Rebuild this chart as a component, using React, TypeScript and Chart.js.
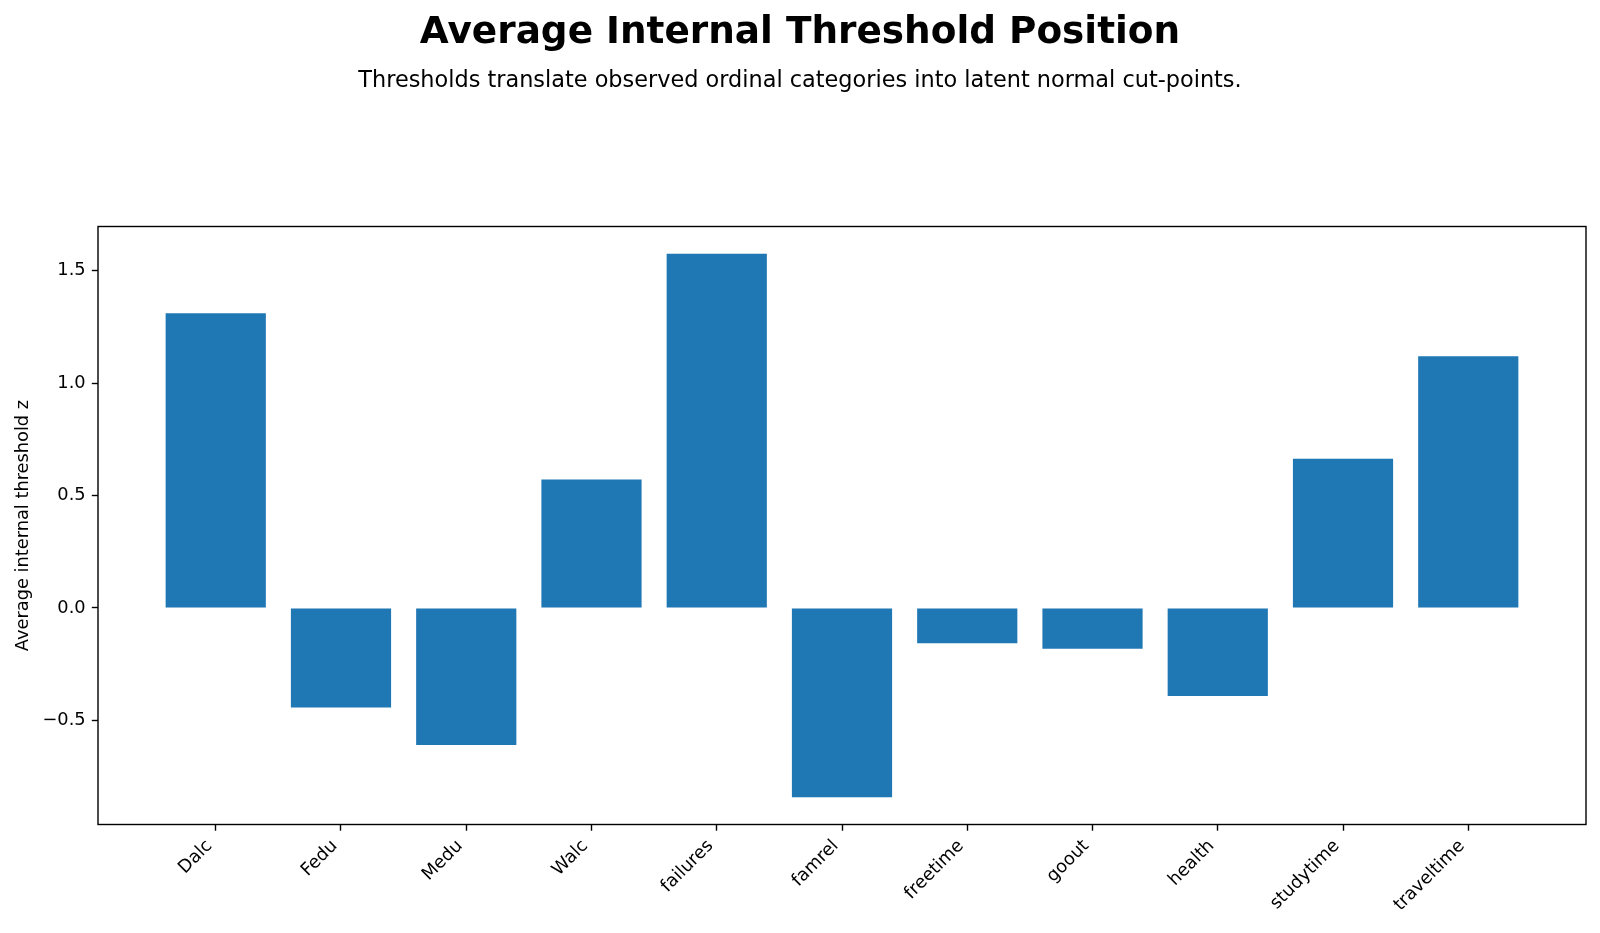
import { useEffect, useRef } from "react";
import { Chart, registerables } from "chart.js";

Chart.register(...registerables);

// Ordinal variables and the mean of their internal (non-extreme) thresholds on the latent z scale
const categories = [
  "Dalc",
  "Fedu",
  "Medu",
  "Walc",
  "failures",
  "famrel",
  "freetime",
  "goout",
  "health",
  "studytime",
  "traveltime",
];
const thresholdMeans = [1.31, -0.443, -0.609, 0.571, 1.575, -0.842, -0.157, -0.182, -0.391, 0.663, 1.119];
const yTickValues = [-0.5, 0.0, 0.5, 1.0, 1.5];

const titleText = "Average Internal Threshold Position";
const subtitleText = "Thresholds translate observed ordinal categories into latent normal cut-points.";
const yAxisLabel = "Average internal threshold z";

const FONT = "'DejaVu Sans', 'Liberation Sans', sans-serif";
const BAR_COLOR = "#1f77b4";
const TICK_FONT_PX = 17.8;
const TICK_LEN = 6.2;
const TICK_PAD = 6.2;
const SPINE_W = 1.4;
const BAR_WIDTH = 0.8;
const MARGIN = 0.05;

const W = 1600;
const H = 933;

// Axis limits with 5% breathing room around the bars
const xLo = -BAR_WIDTH / 2;
const xHi = categories.length - 1 + BAR_WIDTH / 2;
const xMin = xLo - MARGIN * (xHi - xLo);
const xMax = xHi + MARGIN * (xHi - xLo);
const yLo = Math.min(0, ...thresholdMeans);
const yHi = Math.max(0, ...thresholdMeans);
const yMin = yLo - MARGIN * (yHi - yLo);
const yMax = yHi + MARGIN * (yHi - yLo);

const fmtTick = (v: number) => (v < 0 ? "\u2212" + Math.abs(v).toFixed(1) : v.toFixed(1));

const decorations = {
  id: "decorations",
  afterDraw(chart: any) {
    const { ctx, chartArea } = chart;
    const xScale = chart.scales.x;
    ctx.save();

    // Frame around the plotting area
    ctx.strokeStyle = "#000";
    ctx.lineWidth = SPINE_W;
    ctx.strokeRect(chartArea.left, chartArea.top, chartArea.right - chartArea.left, chartArea.bottom - chartArea.top);

    // Heading and subheading
    ctx.fillStyle = "#000";
    ctx.textAlign = "center";
    ctx.textBaseline = "alphabetic";
    ctx.font = `bold 37.4px ${FONT}`;
    ctx.fillText(titleText, W / 2, 43.3);
    ctx.font = `22.4px ${FONT}`;
    ctx.fillText(subtitleText, W / 2, 87.3);

    // Category labels rotated 45 degrees, right end anchored under each tick
    ctx.font = `${TICK_FONT_PX}px ${FONT}`;
    ctx.textAlign = "right";
    const ascent = 0.76 * TICK_FONT_PX;
    const descent = 0.236 * TICK_FONT_PX;
    const y0 = chartArea.bottom + TICK_LEN + TICK_PAD;
    const k = Math.SQRT1_2;
    categories.forEach((label, i) => {
      const px = xScale.getPixelForValue(i);
      ctx.save();
      ctx.translate(px - k * descent, y0 + k * ascent);
      ctx.rotate(-Math.PI / 4);
      ctx.fillText(label, 0, 0);
      ctx.restore();
    });

    ctx.restore();
  },
};

export default function App() {
  const canvasRef = useRef<HTMLCanvasElement | null>(null);

  useEffect(() => {
    document.body.style.margin = "0";
    const canvas = canvasRef.current;
    if (!canvas) return;

    const chart = new Chart(canvas, {
      type: "bar",
      data: {
        datasets: [
          {
            label: yAxisLabel,
            data: thresholdMeans.map((v, i) => ({ x: i, y: v })),
            backgroundColor: BAR_COLOR,
            borderWidth: 0,
            barPercentage: BAR_WIDTH,
            categoryPercentage: 1.0,
          },
        ],
      },
      options: {
        responsive: false,
        animation: false,
        devicePixelRatio: 1,
        layout: { padding: { top: 226.5, right: 14, bottom: 0, left: 0 } },
        plugins: {
          legend: { display: false },
          tooltip: { enabled: false },
          title: { display: false },
        },
        scales: {
          x: {
            type: "linear",
            min: xMin,
            max: xMax,
            offset: false,
            afterBuildTicks: (axis: any) => {
              axis.ticks = categories.map((_, i) => ({ value: i }));
            },
            afterFit: (axis: any) => {
              axis.height = H - 824.5;
            },
            ticks: { display: false },
            grid: {
              display: true,
              offset: false,
              drawOnChartArea: false,
              drawTicks: true,
              tickLength: TICK_LEN,
              tickColor: "#000",
              tickWidth: SPINE_W,
            },
            border: { display: false },
          },
          y: {
            type: "linear",
            min: yMin,
            max: yMax,
            afterBuildTicks: (axis: any) => {
              axis.ticks = yTickValues.map((v) => ({ value: v }));
            },
            afterFit: (axis: any) => {
              axis.width = 98;
            },
            ticks: {
              color: "#000",
              padding: TICK_PAD,
              font: { family: FONT, size: TICK_FONT_PX },
              callback: (v: any) => fmtTick(Number(v)),
            },
            grid: {
              display: true,
              offset: false,
              drawOnChartArea: false,
              drawTicks: true,
              tickLength: TICK_LEN,
              tickColor: "#000",
              tickWidth: SPINE_W,
            },
            border: { display: false },
            title: {
              display: true,
              text: yAxisLabel,
              color: "#000",
              font: { family: FONT, size: TICK_FONT_PX },
              padding: { top: 12.3, bottom: 0 },
            },
          },
        },
      },
      plugins: [decorations],
    } as any);

    return () => chart.destroy();
  }, []);

  return (
    <div style={{ width: W, height: H, background: "#fff" }}>
      <canvas ref={canvasRef} width={W} height={H} style={{ display: "block" }} />
    </div>
  );
}
